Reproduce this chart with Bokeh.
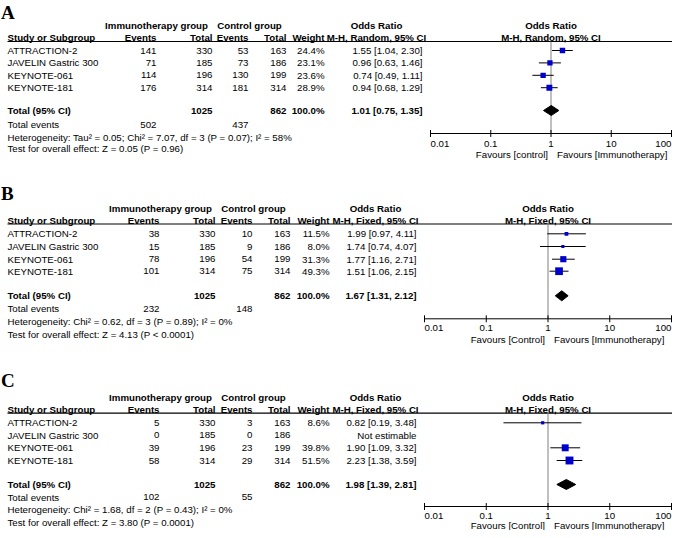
import math
from bokeh.plotting import figure
from bokeh.models import Range1d, LogScale
from bokeh.core.properties import value
from bokeh.embed import file_html
from bokeh.resources import INLINE

# ---------------- data ----------------
studies = ["ATTRACTION-2", "JAVELIN Gastric 300", "KEYNOTE-061", "KEYNOTE-181"]
imm_total = [330, 185, 196, 314]
ctl_total = [163, 186, 199, 314]
sum_imm_total = 1025
sum_ctl_total = 862
tick_vals = [0.01, 0.1, 1, 10, 100]
tick_labels = ["0.01", "0.1", "1", "10", "100"]

# Panel A
a_imm_events = [141, 71, 114, 176]
a_ctl_events = [53, 73, 130, 181]
a_weight = [24.4, 23.1, 23.6, 28.9]
a_or = [1.55, 0.96, 0.74, 0.94]
a_lo = [1.04, 0.63, 0.49, 0.68]
a_hi = [2.30, 1.46, 1.11, 1.29]
a_total = [1.01, 0.75, 1.35]
a_events_sum = [502, 437]
a_het = "Heterogeneity: Tau\u00b2 = 0.05; Chi\u00b2 = 7.07, df = 3 (P = 0.07); I\u00b2 = 58%"
a_test = "Test for overall effect: Z = 0.05 (P = 0.96)"

# Panel B
b_imm_events = [38, 15, 78, 101]
b_ctl_events = [10, 9, 54, 75]
b_weight = [11.5, 8.0, 31.3, 49.3]
b_or = [1.99, 1.74, 1.77, 1.51]
b_lo = [0.97, 0.74, 1.16, 1.06]
b_hi = [4.11, 4.07, 2.71, 2.15]
b_total = [1.67, 1.31, 2.12]
b_events_sum = [232, 148]
b_het = "Heterogeneity: Chi\u00b2 = 0.62, df = 3 (P = 0.89); I\u00b2 = 0%"
b_test = "Test for overall effect: Z = 4.13 (P < 0.0001)"

# Panel C
c_imm_events = [5, 0, 39, 58]
c_ctl_events = [3, 0, 23, 29]
c_weight = [8.6, None, 39.8, 51.5]
c_or = [0.82, None, 1.90, 2.23]
c_lo = [0.19, None, 1.09, 1.38]
c_hi = [3.48, None, 3.32, 3.59]
c_total = [1.98, 1.39, 2.81]
c_events_sum = [102, 55]
c_het = "Heterogeneity: Chi\u00b2 = 1.68, df = 2 (P = 0.43); I\u00b2 = 0%"
c_test = "Test for overall effect: Z = 3.80 (P = 0.0001)"

# ---------------- figure ----------------
FONT = "Liberation Sans"
FS = "9.7px"
W, H = 672, 530

p = figure(width=W, height=H, x_range=Range1d(0, W), y_range=Range1d(H, 0),
           x_axis_type=None, y_axis_type=None, output_backend="svg",
           toolbar_location=None, min_border=0, outline_line_color=None)
p.background_fill_color = "white"


def log_range(x_min_px, x_max_px, frame_l=0, frame_r=W):
    ppd = (x_max_px - x_min_px) / 4.0
    lo = -2 - (x_min_px - frame_l) / ppd
    hi = 2 + (frame_r - x_max_px) / ppd
    return Range1d(10 ** lo, 10 ** hi)


p.extra_x_ranges = {"orA": log_range(430, 671), "orBC": log_range(424, 671)}
p.extra_x_scales = {"orA": LogScale(), "orBC": LogScale()}


def txt(x, y, texts, align="left", bold=False, rng="default", size=FS, font=FONT,
        color="black", x_offset=0):
    p.text(x=x, y=y, text=texts, text_align=align, text_baseline="middle",
           text_font=value(font), text_font_size=value(size),
           text_font_style="bold" if bold else "normal", text_color=color,
           x_range_name=rng, x_offset=x_offset)


def fmt_or(o, l, h):
    return f"{o:.2f} [{l:.2f}, {h:.2f}]"


def panel(g, imm_ev, ctl_ev, weight, orv, lo, hi, total, ev_sum, het, test):
    rng = g["rng"]
    cols = g["cols"]
    rows = g["rows"]
    L = 7
    # letter
    txt([0.5], [g["letter_y"]], [g["letter"]], bold=True, size="19px", font="Liberation Serif")
    # header row 1
    txt([g["imm_c"]], [g["h1"]], ["Immunotherapy group"], align="center", bold=True)
    txt([g["ctl_c"]], [g["h1"]], ["Control group"], align="center", bold=True)
    txt([g["or_hdr_c"]], [g["h1"]], ["Odds Ratio"], align="center", bold=True)
    txt([1], [g["h1"]], ["Odds Ratio"], align="center", bold=True, rng=rng)
    # header row 2
    txt([L], [g["h2"]], ["Study or Subgroup"], bold=True)
    txt(cols, [g["h2"]] * 5, ["Events", "Total", "Events", "Total", "Weight"], align="right", bold=True)
    txt([g["or_hdr_c"]], [g["h2"]], [g["method"]], align="center", bold=True)
    txt([1], [g["h2"]], [g["method"]], align="center", bold=True, rng=rng)
    p.segment(x0=[L], x1=[W], y0=[g["line"]], y1=[g["line"]], line_color="black", line_width=1.2)
    # study rows
    txt([L] * 4, rows, studies)
    txt([cols[0]] * 4, rows, [str(v) for v in imm_ev], align="right")
    txt([cols[1]] * 4, rows, [str(v) for v in imm_total], align="right")
    txt([cols[2]] * 4, rows, [str(v) for v in ctl_ev], align="right")
    txt([cols[3]] * 4, rows, [str(v) for v in ctl_total], align="right")
    txt([cols[4]] * 4, rows, ["" if w is None else f"{w:.1f}%" for w in weight], align="right")
    txt([g["or_right"]] * 4, rows,
        ["Not estimable" if o is None else fmt_or(o, l, h) for o, l, h in zip(orv, lo, hi)],
        align="right")
    # total row
    txt([L], [g["total"]], ["Total (95% CI)"], bold=True)
    txt([cols[1], cols[3], cols[4]], [g["total"]] * 3,
        [str(sum_imm_total), str(sum_ctl_total), "100.0%"], align="right", bold=True)
    txt([g["or_right"]], [g["total"]], [fmt_or(*total)], align="right", bold=True)
    # total events
    txt([L], [g["tevents"]], ["Total events"])
    txt([cols[0], cols[2]], [g["tevents"]] * 2, [str(ev_sum[0]), str(ev_sum[1])], align="right")
    txt([L], [g["het"]], [het])
    txt([L], [g["test"]], [test])

    # forest: reference line at 1
    p.segment(x0=[1], x1=[1], y0=[g["line"]], y1=[g["axis"]], line_color="#808080",
              line_width=1, x_range_name=rng)
    idx = [i for i, o in enumerate(orv) if o is not None]
    ys = [rows[i] for i in idx]
    p.segment(x0=[lo[i] for i in idx], x1=[hi[i] for i in idx], y0=ys, y1=ys,
              line_color="black", line_width=1, x_range_name=rng)
    p.scatter(x=[orv[i] for i in idx], y=ys, marker="square",
              size=[1.1 * math.sqrt(weight[i]) for i in idx],
              fill_color="#0000CC", line_color=None, x_range_name=rng)
    ty = g["total"]
    p.patches(xs=[[total[1], total[0], total[2], total[0]]],
              ys=[[ty, ty - 5, ty, ty + 5]], fill_color="black", line_color="black",
              x_range_name=rng)
    # axis
    ay = g["axis"]
    p.segment(x0=[tick_vals[0]], x1=[tick_vals[-1]], y0=[ay], y1=[ay], line_color="black",
              line_width=1, x_range_name=rng)
    p.segment(x0=tick_vals, x1=tick_vals, y0=[ay - 3.5] * 5, y1=[ay + 3.5] * 5,
              line_color="black", line_width=1, x_range_name=rng)
    tl = g["ticklab"]
    txt([tick_vals[0]], [tl], [tick_labels[0]], align="left", rng=rng)
    txt(tick_vals[1:4], [tl] * 3, tick_labels[1:4], align="center", rng=rng)
    txt([tick_vals[-1]], [tl], [tick_labels[-1]], align="right", rng=rng)
    txt([1], [g["fav"]], [g["fav_left"]], align="right", rng=rng, x_offset=-3)
    txt([1], [g["fav"]], ["Favours [Immunotherapy]"], align="left", rng=rng, x_offset=6)


geomA = dict(letter="A", letter_y=11.5, h1=25, h2=36.5, line=41,
             rows=[50, 62.4, 74.8, 87.2], total=110, tevents=124, het=136.5, test=148,
             axis=133, ticklab=143, fav=154, cols=[156, 212, 248, 286, 324], or_right=422,
             imm_c=156, ctl_c=249, or_hdr_c=376, rng="orA",
             method="M-H, Random, 95% CI", fav_left="Favours [control]")
geomB = dict(letter="B", letter_y=192.5, h1=207.7, h2=220, line=223.5,
             rows=[233.3, 246, 258.7, 270.7], total=295.3, tevents=308, het=320.7, test=334,
             axis=318.3, ticklab=327.3, fav=339, cols=[159, 215, 252, 290, 329], or_right=416,
             imm_c=160, ctl_c=253, or_hdr_c=375, rng="orBC",
             method="M-H, Fixed, 95% CI", fav_left="Favours [Control]")
geomC = dict(letter="C", letter_y=379.5, h1=396.7, h2=409, line=412.7,
             rows=[422.3, 434.7, 447.3, 460], total=484, tevents=496.7, het=509.3, test=522.3,
             axis=506, ticklab=515.5, fav=524.5, cols=[159, 215, 252, 290, 329], or_right=416,
             imm_c=160, ctl_c=253, or_hdr_c=375, rng="orBC",
             method="M-H, Fixed, 95% CI", fav_left="Favours [Control]")

panel(geomA, a_imm_events, a_ctl_events, a_weight, a_or, a_lo, a_hi, a_total, a_events_sum, a_het, a_test)
panel(geomB, b_imm_events, b_ctl_events, b_weight, b_or, b_lo, b_hi, b_total, b_events_sum, b_het, b_test)
panel(geomC, c_imm_events, c_ctl_events, c_weight, c_or, c_lo, c_hi, c_total, c_events_sum, c_het, c_test)

open("out.html", "w").write(file_html(p, INLINE))
